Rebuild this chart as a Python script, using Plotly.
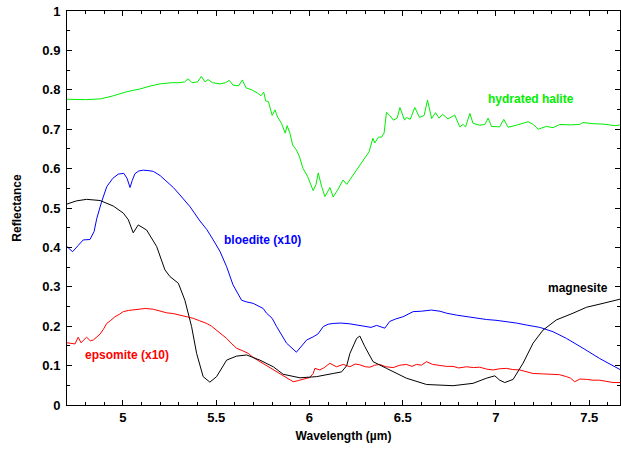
import plotly.graph_objects as go

# hydrated halite (green)
halite_x = [4.70, 4.75, 4.80, 4.88, 4.95, 5.02, 5.09, 5.15, 5.20, 5.26, 5.30, 5.33, 5.35, 5.37, 5.40, 5.42, 5.44, 5.456, 5.48, 5.52, 5.55, 5.57, 5.59, 5.62, 5.64, 5.66, 5.69, 5.72, 5.74, 5.755, 5.765, 5.78, 5.80, 5.815, 5.83, 5.85, 5.87, 5.88, 5.895, 5.91, 5.93, 5.945, 5.965, 5.99, 6.02, 6.035, 6.047, 6.065, 6.083, 6.11, 6.127, 6.15, 6.18, 6.20, 6.26, 6.32, 6.34, 6.35, 6.37, 6.387, 6.40, 6.413, 6.43, 6.45, 6.47, 6.485, 6.51, 6.52, 6.54, 6.565, 6.59, 6.615, 6.633, 6.655, 6.676, 6.695, 6.713, 6.743, 6.779, 6.806, 6.824, 6.837, 6.86, 6.877, 6.913, 6.94, 6.958, 6.976, 7.02, 7.042, 7.065, 7.11, 7.172, 7.20, 7.226, 7.27, 7.306, 7.342, 7.40, 7.449, 7.467, 7.52, 7.574, 7.637, 7.67]
halite_y = [0.776, 0.775, 0.775, 0.777, 0.785, 0.795, 0.802, 0.810, 0.815, 0.818, 0.818, 0.820, 0.828, 0.818, 0.820, 0.834, 0.820, 0.826, 0.818, 0.815, 0.818, 0.824, 0.812, 0.810, 0.825, 0.805, 0.800, 0.792, 0.785, 0.794, 0.772, 0.770, 0.735, 0.749, 0.730, 0.715, 0.690, 0.709, 0.690, 0.660, 0.647, 0.632, 0.601, 0.580, 0.544, 0.560, 0.589, 0.555, 0.529, 0.552, 0.528, 0.545, 0.571, 0.560, 0.600, 0.643, 0.677, 0.665, 0.680, 0.680, 0.690, 0.743, 0.735, 0.723, 0.728, 0.755, 0.723, 0.730, 0.725, 0.755, 0.730, 0.735, 0.774, 0.727, 0.742, 0.728, 0.738, 0.726, 0.736, 0.706, 0.712, 0.706, 0.740, 0.715, 0.710, 0.712, 0.728, 0.707, 0.706, 0.725, 0.705, 0.710, 0.719, 0.712, 0.700, 0.707, 0.704, 0.712, 0.711, 0.712, 0.717, 0.714, 0.713, 0.709, 0.711]

# bloedite x10 (blue)
bloedite_x = [4.70, 4.73, 4.76, 4.787, 4.823, 4.845, 4.86, 4.885, 4.913, 4.945, 4.975, 5.005, 5.022, 5.038, 5.05, 5.064, 5.085, 5.109, 5.135, 5.163, 5.20, 5.234, 5.27, 5.306, 5.36, 5.413, 5.45, 5.484, 5.52, 5.556, 5.59, 5.636, 5.66, 5.698, 5.725, 5.752, 5.77, 5.80, 5.824, 5.85, 5.877, 5.93, 5.96, 5.985, 6.02, 6.045, 6.074, 6.10, 6.127, 6.17, 6.217, 6.26, 6.306, 6.33, 6.36, 6.404, 6.43, 6.46, 6.502, 6.53, 6.556, 6.60, 6.654, 6.70, 6.735, 6.79, 6.842, 6.90, 6.949, 7.00, 7.056, 7.11, 7.164, 7.235, 7.306, 7.378, 7.467, 7.556, 7.669]
bloedite_y = [0.402, 0.389, 0.405, 0.419, 0.420, 0.440, 0.474, 0.515, 0.554, 0.575, 0.586, 0.588, 0.575, 0.552, 0.570, 0.587, 0.594, 0.596, 0.595, 0.593, 0.582, 0.567, 0.552, 0.533, 0.503, 0.467, 0.445, 0.419, 0.390, 0.351, 0.305, 0.266, 0.262, 0.258, 0.252, 0.245, 0.233, 0.220, 0.199, 0.180, 0.157, 0.134, 0.150, 0.165, 0.173, 0.180, 0.199, 0.205, 0.207, 0.208, 0.206, 0.203, 0.200, 0.197, 0.202, 0.195, 0.212, 0.218, 0.224, 0.230, 0.237, 0.238, 0.241, 0.238, 0.233, 0.228, 0.224, 0.220, 0.217, 0.215, 0.212, 0.208, 0.203, 0.197, 0.186, 0.169, 0.144, 0.118, 0.089]

# magnesite (black)
magnesite_x = [4.70, 4.75, 4.805, 4.877, 4.948, 5.002, 5.029, 5.055, 5.082, 5.127, 5.181, 5.225, 5.252, 5.297, 5.332, 5.368, 5.395, 5.43, 5.466, 5.502, 5.556, 5.609, 5.663, 5.734, 5.806, 5.859, 5.949, 6.038, 6.127, 6.172, 6.20, 6.217, 6.253, 6.27, 6.297, 6.341, 6.413, 6.52, 6.628, 6.77, 6.877, 6.949, 6.994, 7.02, 7.047, 7.092, 7.145, 7.199, 7.252, 7.324, 7.413, 7.485, 7.574, 7.669]
magnesite_y = [0.510, 0.518, 0.522, 0.519, 0.505, 0.487, 0.470, 0.437, 0.457, 0.444, 0.402, 0.343, 0.326, 0.309, 0.266, 0.199, 0.131, 0.072, 0.058, 0.072, 0.114, 0.124, 0.127, 0.114, 0.097, 0.078, 0.069, 0.072, 0.080, 0.084, 0.100, 0.131, 0.169, 0.175, 0.148, 0.110, 0.093, 0.068, 0.052, 0.049, 0.055, 0.068, 0.074, 0.063, 0.057, 0.065, 0.106, 0.157, 0.190, 0.216, 0.233, 0.248, 0.258, 0.269]

# epsomite x10 (red)
epsomite_x = [4.70, 4.743, 4.76, 4.775, 4.805, 4.825, 4.841, 4.86, 4.877, 4.895, 4.913, 4.935, 4.957, 4.98, 5.002, 5.03, 5.074, 5.12, 5.163, 5.20, 5.234, 5.27, 5.306, 5.34, 5.377, 5.41, 5.449, 5.475, 5.502, 5.53, 5.556, 5.58, 5.609, 5.64, 5.672, 5.70, 5.734, 5.77, 5.806, 5.84, 5.877, 5.913, 5.94, 5.966, 6.002, 6.02, 6.029, 6.056, 6.08, 6.109, 6.145, 6.181, 6.217, 6.245, 6.27, 6.30, 6.324, 6.35, 6.377, 6.41, 6.449, 6.485, 6.52, 6.55, 6.574, 6.60, 6.628, 6.66, 6.699, 6.735, 6.77, 6.80, 6.842, 6.88, 6.913, 6.95, 6.985, 7.02, 7.056, 7.09, 7.127, 7.16, 7.199, 7.25, 7.306, 7.34, 7.378, 7.40, 7.422, 7.45, 7.485, 7.52, 7.556, 7.59, 7.628, 7.669]
epsomite_y = [0.158, 0.155, 0.172, 0.158, 0.172, 0.163, 0.165, 0.172, 0.180, 0.192, 0.207, 0.215, 0.224, 0.230, 0.237, 0.240, 0.243, 0.245, 0.243, 0.238, 0.234, 0.232, 0.228, 0.224, 0.220, 0.214, 0.207, 0.200, 0.190, 0.180, 0.169, 0.157, 0.144, 0.138, 0.131, 0.120, 0.110, 0.100, 0.089, 0.080, 0.068, 0.059, 0.062, 0.065, 0.070, 0.080, 0.093, 0.089, 0.095, 0.106, 0.097, 0.103, 0.097, 0.104, 0.102, 0.097, 0.096, 0.101, 0.103, 0.097, 0.095, 0.101, 0.103, 0.098, 0.103, 0.101, 0.110, 0.103, 0.100, 0.098, 0.098, 0.094, 0.097, 0.095, 0.096, 0.091, 0.089, 0.092, 0.093, 0.090, 0.089, 0.085, 0.080, 0.079, 0.078, 0.077, 0.072, 0.068, 0.059, 0.066, 0.065, 0.063, 0.063, 0.060, 0.057, 0.057]

labels = ["hydrated halite", "bloedite (x10)", "epsomite (x10)", "magnesite"]
label_x = [7.19, 5.75, 5.02, 7.44]
label_y = [0.777, 0.419, 0.127, 0.297]
colors = ["#00ee00", "#0000ff", "#ff0000", "#000000"]

x_ticks = [5, 5.5, 6, 6.5, 7, 7.5]
y_ticks = [0, 0.1, 0.2, 0.3, 0.4, 0.5, 0.6, 0.7, 0.8, 0.9, 1]

fig = go.Figure()
series = [(halite_x, halite_y), (bloedite_x, bloedite_y), (epsomite_x, epsomite_y), (magnesite_x, magnesite_y)]
for (xs, ys), c, name in zip(series, colors, labels):
    fig.add_trace(go.Scatter(x=xs, y=ys, mode="lines", name=name,
                             line=dict(color=c, width=1)))

for t, lx, ly, c in zip(labels, label_x, label_y, colors):
    fig.add_annotation(x=lx, y=ly, text="<b>%s</b>" % t, showarrow=False,
                       font=dict(family="Liberation Sans, Arial", size=12, color=c))

font = dict(family="Liberation Sans, Arial", size=13, color="black")
fig.update_layout(
    width=621, height=449,
    margin=dict(l=67, r=1, t=11, b=44),
    paper_bgcolor="white", plot_bgcolor="white",
    showlegend=False,
    font=font,
    xaxis=dict(range=[4.7, 7.665], tickvals=x_ticks, ticktext=["<b>%g</b>" % v for v in x_ticks],
               ticks="inside", ticklen=5, tickcolor="black", showline=True, linecolor="black",
               linewidth=1, mirror="allticks", showgrid=False, zeroline=False,
               minor=dict(dtick=0.1, ticks="inside", ticklen=3, tickcolor="black", showgrid=False),
               title=dict(text="<b>Wavelength (µm)</b>", font=dict(size=12), standoff=8)),
    yaxis=dict(range=[0, 1], tickvals=y_ticks, ticktext=["<b>%g</b>" % v for v in y_ticks],
               ticks="inside", ticklen=5, tickcolor="black", showline=True, linecolor="black",
               linewidth=1, mirror="allticks", showgrid=False, zeroline=False,
               ticklabelstandoff=3,
               minor=dict(dtick=0.05, ticks="inside", ticklen=3, tickcolor="black", showgrid=False),
               title=dict(text="<b>Reflectance</b>", font=dict(size=12), standoff=18)),
)
fig.write_html("out.html")
